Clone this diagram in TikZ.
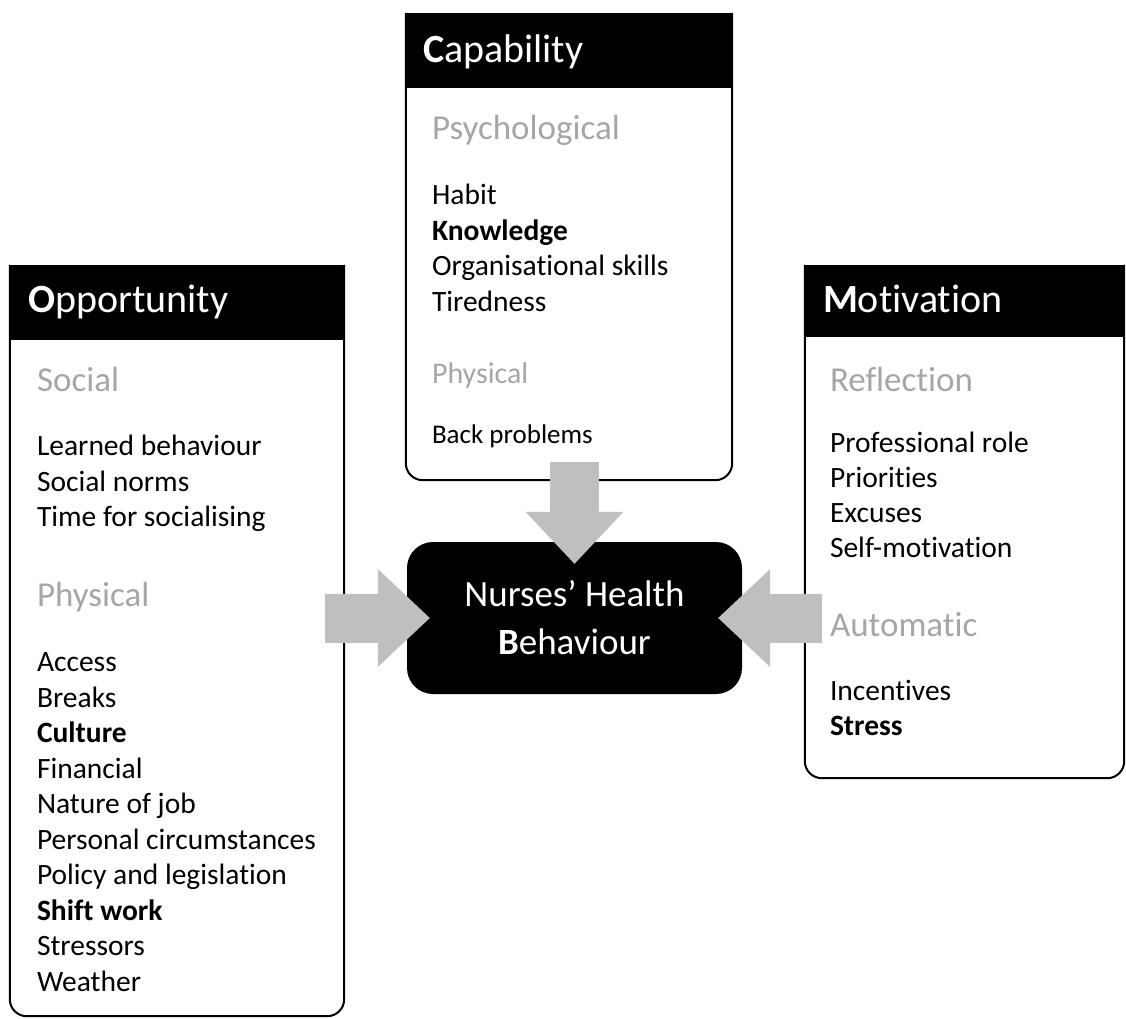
\documentclass[tikz,border=0pt]{standalone}
\usepackage{fontspec}
\setmainfont{Carlito}[Ligatures=NoCommon]
\usetikzlibrary{arrows.meta, positioning, calc}
\definecolor{arrowgrey}{HTML}{BFBFBF}
\definecolor{subgrey}{HTML}{A6A6A6}
\tikzset{
    panel/.style={rectangle, inner sep=0pt},
    outline/.style={line width=2pt, rounded corners=17pt},
    header/.style={rectangle, fill=black, anchor=north west, inner sep=0pt},
    headtext/.style={anchor=base west, text=white, inner sep=0pt,
                     font=\fontsize{40}{48}\selectfont},
    subhead/.style={anchor=base west, text=subgrey, inner sep=0pt,
                    font=\fontsize{35}{42}\selectfont},
    item/.style={anchor=base west, inner sep=0pt,
                 font=\fontsize{29.5}{35.5}\selectfont},
    behaviour/.style={rectangle, rounded corners=26pt, fill=black, text=white,
                      align=center, minimum width=335pt, minimum height=152pt,
                      font=\fontsize{37}{48}\selectfont},
    fatarrow/.style={draw=arrowgrey, line width=49pt,
                     -{Triangle[length=52pt, width=98pt, line width=0pt, fill=arrowgrey]}},
}

\begin{document}
\begin{tikzpicture}[x=1pt, y=-1pt]
    \useasboundingbox (0,0) rectangle (1126,1019);

    % the three COM panels
    \node[panel, minimum width=326pt, minimum height=467pt] (cap) at (569,246.5) {};
    \node[panel, minimum width=334pt, minimum height=751pt] (opp) at (177,640.5) {};
    \node[panel, minimum width=319pt, minimum height=513pt] (mot) at (964.5,521.5) {};

    \draw[outline] (cap.north west) -- (cap.south west) -- (cap.south east) -- (cap.north east);
    \draw[outline] (opp.north west) -- (opp.south west) -- (opp.south east) -- (opp.north east);
    \draw[outline] (mot.north west) -- (mot.south west) -- (mot.south east) -- (mot.north east);

    \node[header, minimum width=326pt, minimum height=75pt] (capHead) at (cap.north west) {};
    \node[header, minimum width=334pt, minimum height=75pt] (oppHead) at (opp.north west) {};
    \node[header, minimum width=319pt, minimum height=72pt] (motHead) at (mot.north west) {};

    \node[headtext] (capTitle) at ($(cap.north west)+(17,50)$) {\textbf{C}apability};
    \node[headtext] (oppTitle) at ($(opp.north west)+(18,48)$) {\textbf{O}pportunity};
    \node[headtext] (motTitle) at ($(mot.north west)+(18,48)$) {\textbf{M}otivation};

    % Capability
    \node[subhead] (capPsy) at ($(cap.north west)+(26,127)$) {Psychological};
    \foreach \t [count=\i from 0] in {Habit, \textbf{Knowledge}, Organisational skills, Tiredness}
        \node[item] (capPsy\i) at ($(cap.north west)+(26,{192+35.5*\i})$) {\t};
    \node[subhead, font=\fontsize{30}{36}\selectfont] (capPhys) at ($(cap.north west)+(26,371)$) {Physical};
    \node[item, font=\fontsize{27}{33}\selectfont] (capPhys0) at ($(cap.north west)+(26,431)$) {Back problems};

    % Opportunity
    \node[subhead] (oppSoc) at ($(opp.north west)+(27,127)$) {Social};
    \foreach \t [count=\i from 0] in {Learned behaviour, Social norms, Time for socialising}
        \node[item] (oppSoc\i) at ($(opp.north west)+(27,{191+35.5*\i})$) {\t};
    \node[subhead] (oppPhys) at ($(opp.north west)+(27,342)$) {Physical};
    \foreach \t [count=\i from 0] in {Access, Breaks, \textbf{Culture}, Financial, Nature of job,
            Personal circumstances, Policy and legislation, \textbf{Shift work}, Stressors, Weather}
        \node[item] (oppPhys\i) at ($(opp.north west)+(27,{407+35.5*\i})$) {\t};

    % Motivation
    \node[subhead] (motRef) at ($(mot.north west)+(25,127)$) {Reflection};
    \foreach \t [count=\i from 0] in {Professional role, Priorities, Excuses, Self-motivation}
        \node[item] (motRef\i) at ($(mot.north west)+(25,{188+35*\i})$) {\t};
    \node[subhead] (motAuto) at ($(mot.north west)+(25,372)$) {Automatic};
    \foreach \t [count=\i from 0] in {Incentives, \textbf{Stress}}
        \node[item] (motAuto\i) at ($(mot.north west)+(25,{436+35*\i})$) {\t};

    % behaviour in the middle
    \node[behaviour] (behav) at (574.5,618) {\raisebox{-3pt}{Nurses’ Health}\\\raisebox{-3pt}{\textbf{B}ehaviour}};

    \draw[fatarrow] ([xshift=-19pt]opp.east |- behav.west) -- ([xshift=23pt]behav.west);
    \draw[fatarrow] ([yshift=18pt]cap.south -| behav.north) -- ([yshift=-22pt]behav.north);
    \draw[fatarrow] ([xshift=17pt]mot.west |- behav.east) -- ([xshift=-24pt]behav.east);

\end{tikzpicture}
\end{document}
